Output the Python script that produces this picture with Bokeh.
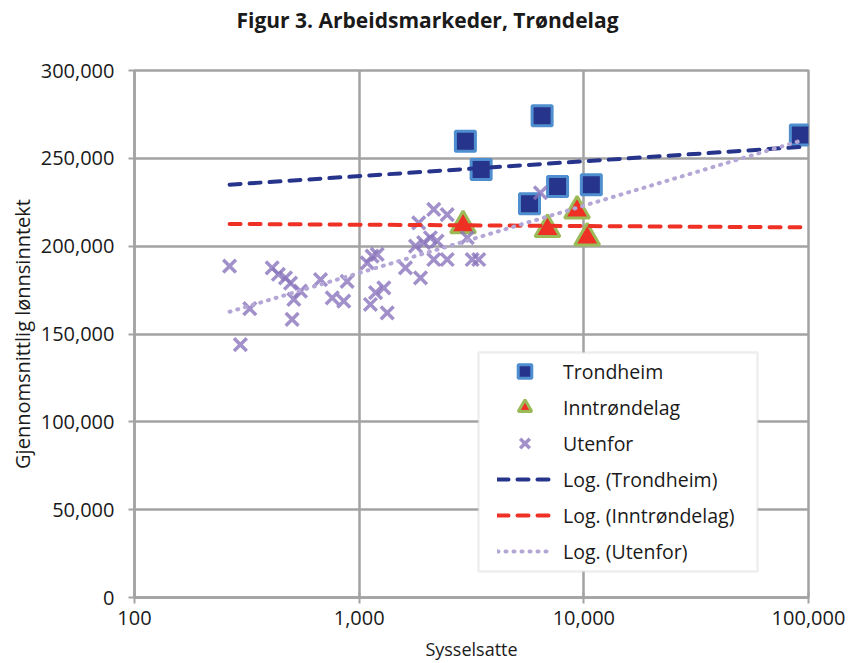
import numpy as np
from bokeh.plotting import figure
from bokeh.models import (Range1d, FixedTicker, NumeralTickFormatter, Legend,
                          LegendItem, BoxAnnotation, Title)
from bokeh.embed import file_html
from bokeh.resources import INLINE

# ---------------- data ----------------
title_text = "Figur 3.  Arbeidsmarkeder, Trøndelag"
x_label = "Sysselsatte"
y_label = "Gjennomsnittlig lønnsinntekt"

series_names = ["Trondheim", "Inntrøndelag", "Utenfor"]
trend_names = ["Log. (Trondheim)", "Log. (Inntrøndelag)", "Log. (Utenfor)"]

trondheim_x = [2970, 6520, 3490, 5730, 7640, 10800, 92000]
trondheim_y = [259700, 274300, 243600, 224100, 233900, 234900, 263300]

inntrondelag_x = [2900, 6890, 9330, 10350]
inntrondelag_y = [211800, 209600, 220200, 204800]

utenfor_x = [265, 410, 470, 495, 512, 326, 503, 296, 548, 437,
             673, 759, 854, 884, 1142, 1203, 1086, 1288, 1183, 1122,
             1333, 1607, 1875, 2148, 2465, 1841, 2075, 2223, 1937, 1782,
             2148, 2465, 3184, 3406, 3027, 6410]
utenfor_y = [188600, 187700, 182000, 179000, 169700, 164400, 158300, 144000, 174400, 184000,
             181000, 170600, 168700, 180000, 194300, 195300, 190500, 176300, 173500, 166800,
             162000, 187700, 182000, 220900, 218000, 213300, 204800, 202900, 202000, 200000,
             192400, 192400, 192400, 192400, 204800, 230400]

x_ticks = [100, 1000, 10000, 100000]
y_ticks = [0, 50000, 100000, 150000, 200000, 250000, 300000]

# ---------------- styles ----------------
FONT = "Open Sans"
NAVY = "#27348b"
SQ_EDGE = "#4f8fd0"
RED = "#ee3124"
TRI_EDGE = "#9bbb59"
CROSS = "#8a74bb"
LAVENDER = "#b4a7d6"
GRID = "#a3a3a3"
TXT = "#1a1a1a"

# logarithmic trend lines (least squares on log10 x), spanning the data range
all_x = trondheim_x + inntrondelag_x + utenfor_x
span = np.array([min(all_x), max(all_x)], dtype=float)


def log_trend(xs, ys):
    b, a = np.polyfit(np.log10(xs), ys, 1)
    return a + b * np.log10(span)


p = figure(width=848, height=663, x_axis_type="log",
           x_range=Range1d(100, 100000), y_range=Range1d(0, 300000),
           output_backend="svg", toolbar_location=None,
           min_border_left=134, min_border_right=40,
           min_border_top=70, min_border_bottom=65,
           title=title_text)
p.background_fill_color = "white"
p.border_fill_color = "white"
p.outline_line_color = GRID
p.outline_line_width = 2.5

p.title.text_font = FONT
p.title.text_font_style = "bold"
p.title.text_font_size = "21px"
p.title.text_color = TXT
p.title.align = "left"
p.title.offset = 102
p.title.standoff = 0

# spacer between the frame and the title (keeps the title near the top edge)
p.add_layout(Title(text=" ", text_font_size="10px", standoff=24), "above")

# axes
p.xaxis.ticker = FixedTicker(ticks=x_ticks)
p.yaxis.ticker = FixedTicker(ticks=y_ticks)
p.xaxis.formatter = NumeralTickFormatter(format="0,0")
p.yaxis.formatter = NumeralTickFormatter(format="0,0")
for ax in (p.xaxis[0], p.yaxis[0]):
    ax.axis_line_color = GRID
    ax.axis_line_width = 2.5
    ax.major_tick_line_color = GRID
    ax.major_tick_line_width = 2
    ax.minor_tick_line_color = None
    ax.major_label_text_font = FONT
    ax.major_label_text_color = TXT
    ax.major_label_text_font_size = "20px"
    ax.axis_label_text_font = FONT
    ax.axis_label_text_font_style = "normal"
    ax.axis_label_text_color = TXT
p.yaxis.axis_label = y_label
p.xaxis.axis_label = x_label
p.yaxis.axis_label_text_font_size = "20px"
p.xaxis.axis_label_text_font_size = "18px"
p.xaxis.major_tick_in = 5
p.xaxis.major_tick_out = 6
p.yaxis.major_tick_in = 0
p.yaxis.major_tick_out = 6
p.xaxis.major_label_standoff = 7
p.yaxis.major_label_standoff = 14
p.yaxis.axis_label_standoff = 2
p.xaxis.axis_label_standoff = 9

for g in (p.xgrid[0], p.ygrid[0]):
    g.grid_line_color = GRID
    g.grid_line_width = 2.5
    g.minor_grid_line_color = None

# scatter series
r_tr = p.scatter(trondheim_x, trondheim_y, marker="square", size=20,
                 fill_color=NAVY, line_color=SQ_EDGE, line_width=3)
r_in = p.scatter(inntrondelag_x, inntrondelag_y, marker="triangle", size=25,
                 fill_color=RED, line_color=TRI_EDGE, line_width=3)
r_ut = p.scatter(utenfor_x, utenfor_y, marker="x", size=18,
                 line_color=CROSS, line_width=3.5, line_alpha=0.8)

# trend lines
t_tr = p.line(span, log_trend(trondheim_x, trondheim_y), line_color=NAVY,
              line_width=4, line_dash="11 9", line_cap="round")
t_in = p.line(span, log_trend(inntrondelag_x, inntrondelag_y), line_color=RED,
              line_width=4, line_dash="11 9", line_cap="round")
t_ut = p.line(span, log_trend(utenfor_x, utenfor_y), line_color=LAVENDER,
              line_width=4, line_dash="1 7", line_cap="round")

# legend frame
box = BoxAnnotation(left=344, right=623, top=245, bottom=26,
                    left_units="screen", right_units="screen",
                    top_units="screen", bottom_units="screen",
                    fill_color="white", fill_alpha=1.0,
                    line_color="#c8c8c8", line_width=2.5)
p.add_layout(box)

legend = Legend(items=[
    LegendItem(label=series_names[0], renderers=[r_tr]),
    LegendItem(label=series_names[1], renderers=[r_in]),
    LegendItem(label=series_names[2], renderers=[r_ut]),
    LegendItem(label=trend_names[0], renderers=[t_tr]),
    LegendItem(label=trend_names[1], renderers=[t_in]),
    LegendItem(label=trend_names[2], renderers=[t_ut]),
], location=(360, 26))
legend.border_line_alpha = 0
legend.background_fill_alpha = 0
legend.padding = 3
legend.spacing = 2
legend.glyph_width = 55
legend.glyph_height = 34
legend.label_height = 34
legend.label_standoff = 11
legend.label_text_font = FONT
legend.label_text_font_size = "19.5px"
legend.label_text_color = TXT
legend.margin = 0
p.add_layout(legend)

open("out.html", "w").write(file_html(p, INLINE))
